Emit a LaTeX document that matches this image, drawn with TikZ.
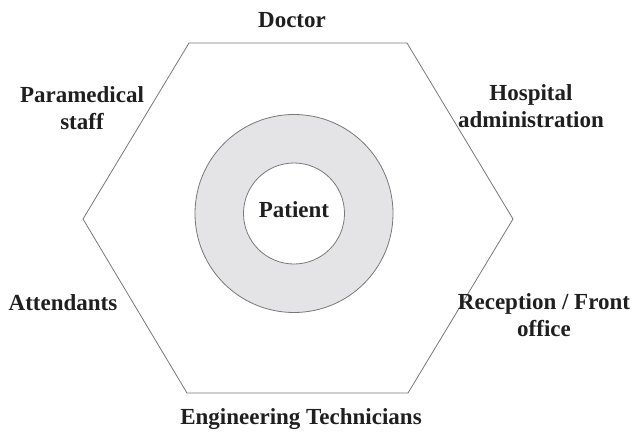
\documentclass[tikz,border=0pt]{standalone}
\usepackage{fontspec}
\setmainfont{Liberation Serif}
\definecolor{edgegray}{RGB}{120,120,120}
\definecolor{ringfill}{RGB}{228,228,231}
\tikzset{
  lbl/.style={font=\bfseries\fontsize{23}{27}\selectfont, align=center, inner sep=0pt, text=black!88},
  hexline/.style={draw=edgegray, line width=0.8pt, line join=miter},
  ringline/.style={draw=edgegray, line width=0.8pt}
}
\begin{document}
\begin{tikzpicture}[x=1pt,y=-1pt]
\useasboundingbox[fill=white] (0,0) rectangle (634,431);
% hexagon
\coordinate (h1) at (189,43);
\coordinate (h2) at (407,43);
\coordinate (h3) at (513,219);
\coordinate (h4) at (408,393);
\coordinate (h5) at (187,393);
\coordinate (h6) at (83,219);
\draw[hexline] (h1) -- (h2) -- (h3) -- (h4) -- (h5) -- (h6) -- cycle;
% rings
\coordinate (c) at (294,213.5);
\fill[ringfill] (c) circle (99);
\draw[ringline] (c) circle (99);
\fill[white] (c) circle (50.5);
\draw[ringline] (c) circle (50.5);
% labels
\node[lbl] (patient) at (294,210) {Patient};
\node[lbl] (doctor) at (292,20) {Doctor};
\node[lbl] (para) at (82,108) {Paramedical\\staff};
\node[lbl] (hosp) at (531,106) {Hospital\\administration};
\node[lbl] (att) at (63,303) {Attendants};
\node[lbl] (recep) at (544,315) {Reception / Front\\office};
\node[lbl] (eng) at (301,419) {Engineering Technicians};
\end{tikzpicture}
\end{document}
